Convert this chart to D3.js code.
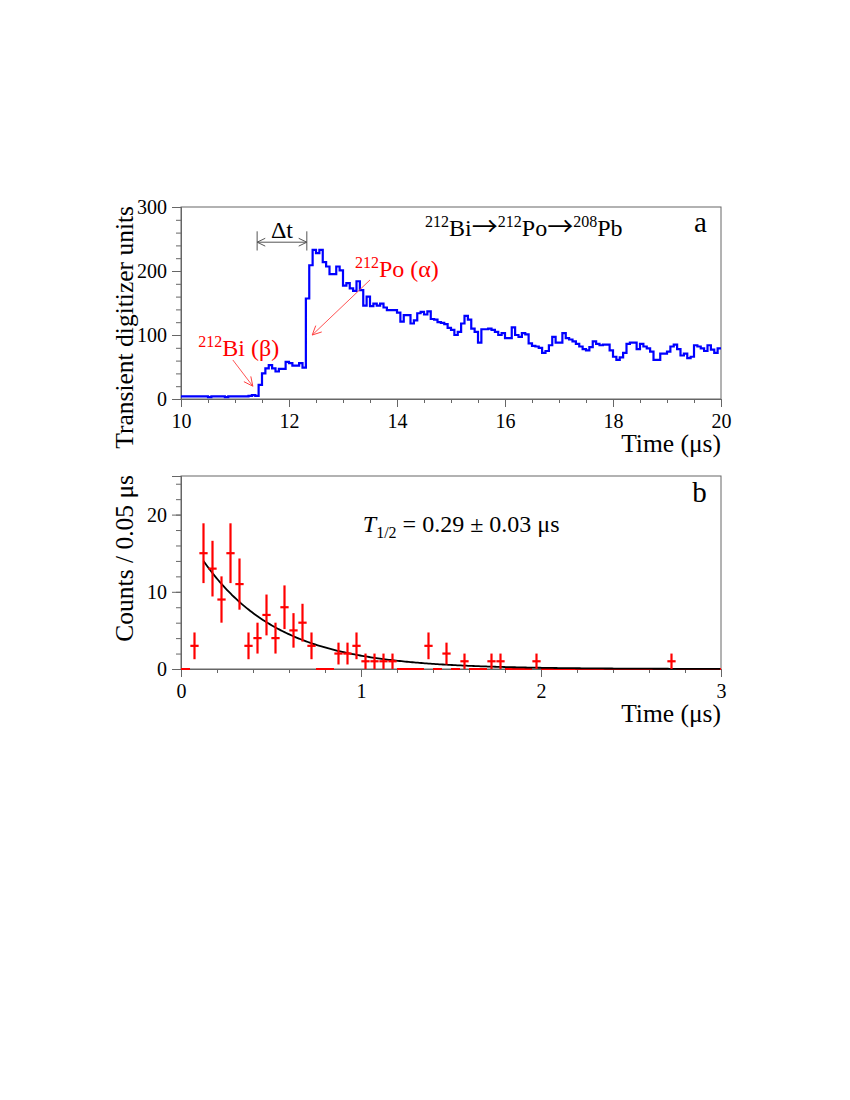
<!DOCTYPE html>
<html>
<head>
<meta charset="utf-8">
<script src="https://cdn.jsdelivr.net/npm/d3@7"></script>
<style>
  body { margin: 0; background: #fff; }
  text { font-family: "Liberation Serif", "Times New Roman", serif; fill: #000; }
</style>
</head>
<body>
<svg id="chart" width="850" height="1100"></svg>
<script>
// ---- panel a : transient digitizer trace (bins of 0.0625 us from 10 us)
var traceStart = 10;
var traceBin = 0.0625;
var traceValues = [
  4, 4, 4, 4, 4, 4, 4, 4, 3, 4, 4, 4, 4, 3, 4, 4, 4, 4, 4, 4, 5, 6, 5,
  22, 40, 48, 53, 48, 43, 47, 47, 58, 56, 52, 52, 56, 49,
  157, 209, 233, 228, 233, 214, 207, 195, 195, 207, 201, 177, 181, 173, 169, 184, 170, 146, 160,
  145, 149, 146, 149, 143, 139, 139, 139, 135, 121, 131, 131, 118, 123, 134, 136, 132, 137, 125, 124,
  120, 119, 117, 111, 108, 100, 105, 118, 130, 124, 110,
  105, 88, 109, 109, 110, 108, 105, 100, 103, 95, 95, 112, 100, 97, 103, 101, 87, 83, 82, 80, 72, 75,
  84, 97, 88, 88, 103, 95, 93, 90, 86, 82, 78, 76, 81, 90,
  86, 84, 85, 85, 76, 66, 61, 65, 72, 86, 88, 88, 78, 86, 82, 79, 74, 61, 61, 71, 71, 74, 82, 85,
  78, 68, 71, 64, 66, 84, 82, 79, 75, 84, 77, 72, 79
];
var traceXTicks = [10, 12, 14, 16, 18, 20];
var traceYTicks = [0, 100, 200, 300];

// ---- panel b : decay time distribution (bins of 0.05 us from 0)
var decayBin = 0.05;
var decayCounts = [
  0, 3, 15, 13, 9, 15, 11, 3, 4, 7, 4, 8, 5, 6, 3, 0, 0, 2, 2, 3,
  1, 1, 1, 1, 0, 0, 0, 3, 0, 2, 0, 1, 0, 0, 1, 1, 0, 0, 0, 1,
  0, 0, 0, 0, 0, 0, 0, 0, 0, 0, 0, 0, 0, 0, 1, 0, 0, 0, 0, 0
];
var decayXTicks = [0, 1, 2, 3];
var decayYTicks = [0, 10, 20];
// fit: exponential with T1/2
var halfLife = 0.29, halfLifeErr = 0.03;
var fitStart = 0.125, fitAmp = 14.0;

var svg = d3.select("#chart");
var axisColor = "#666";
var titleSize = 25.5, labelSize = 24, supSize = 16;

function drawAxes(g, x, y, o) {
  // minor ticks
  g.append("g").attr("transform", "translate(0," + y.range()[0] + ")")
    .call(d3.axisBottom(x).tickValues(o.xMinor).tickSize(4).tickFormat(""));
  g.append("g").attr("transform", "translate(" + x.range()[0] + ",0)")
    .call(d3.axisLeft(y).tickValues(o.yMinor).tickSize(5).tickFormat(""));
  // major ticks + labels
  g.append("g").attr("transform", "translate(0," + y.range()[0] + ")")
    .call(d3.axisBottom(x).tickValues(o.xTicks).tickSize(8).tickPadding(7).tickFormat(d3.format("d")));
  g.append("g").attr("transform", "translate(" + x.range()[0] + ",0)")
    .call(d3.axisLeft(y).tickValues(o.yTicks).tickSize(9).tickPadding(5).tickFormat(d3.format("d")));
  g.selectAll(".domain").attr("stroke", axisColor);
  g.selectAll(".tick line").attr("stroke", axisColor);
  g.selectAll(".tick text").attr("font-family", "Liberation Serif").attr("font-size", 20).attr("fill", "#000");
  // frame
  g.append("rect")
    .attr("x", x.range()[0]).attr("y", y.range()[1])
    .attr("width", x.range()[1] - x.range()[0]).attr("height", y.range()[0] - y.range()[1])
    .attr("fill", "none").attr("stroke", axisColor).attr("stroke-width", 1);
  // titles
  g.append("text")
    .attr("transform", "translate(133," + (y.range()[1] - 1) + ") rotate(-90)")
    .attr("text-anchor", "end").attr("font-size", titleSize).text(o.yTitle);
  g.append("text")
    .attr("x", x.range()[1]).attr("y", y.range()[0] + o.xTitleDy)
    .attr("text-anchor", "end").attr("font-size", titleSize).text("Time (\u03bcs)");
}

function arrowHead(g, x0, y0, x1, y1, len, color) {
  var a = Math.atan2(y1 - y0, x1 - x0), s = 0.45;
  g.append("path")
    .attr("d", "M" + (x1 - len * Math.cos(a - s)) + "," + (y1 - len * Math.sin(a - s)) +
      "L" + x1 + "," + y1 +
      "L" + (x1 - len * Math.cos(a + s)) + "," + (y1 - len * Math.sin(a + s)))
    .attr("fill", "none").attr("stroke", color).attr("stroke-width", 1);
}

// ================= panel a =================
var x1 = d3.scaleLinear().domain([10, 20]).range([181, 721]);
var y1 = d3.scaleLinear().domain([0, 300]).range([399, 207]);
var ga = svg.append("g");

drawAxes(ga, x1, y1, {
  xTicks: traceXTicks, xMinor: d3.range(10, 20.01, 0.5),
  yTicks: traceYTicks, yMinor: d3.range(0, 301, 20),
  yTitle: "Transient digitizer units", xTitleDy: 53
});

var tracePts = traceValues.map(function (v, i) { return [traceStart + i * traceBin, v]; });
tracePts.push([traceStart + traceValues.length * traceBin, traceValues[traceValues.length - 1]]);

ga.append("path")
  .datum(tracePts)
  .attr("d", d3.line().x(function (d) { return x1(d[0]); }).y(function (d) { return y1(d[1]); })
    .curve(d3.curveStepAfter))
  .attr("fill", "none").attr("stroke", "#0000ff").attr("stroke-width", 2.2);

// delta t marker
var dtA = x1(11.41), dtB = x1(12.33), dtY = y1(245);
ga.append("line").attr("x1", dtA).attr("x2", dtB).attr("y1", dtY).attr("y2", dtY)
  .attr("stroke", "#555").attr("stroke-width", 1);
[dtA, dtB].forEach(function (xx) {
  ga.append("line").attr("x1", xx).attr("x2", xx).attr("y1", y1(262)).attr("y2", y1(232))
    .attr("stroke", "#555").attr("stroke-width", 1);
});
arrowHead(ga, dtB, dtY, dtA, dtY, 9, "#555");
arrowHead(ga, dtA, dtY, dtB, dtY, 9, "#555");
ga.append("text").attr("x", x1(11.87)).attr("y", y1(251)).attr("text-anchor", "middle")
  .attr("font-size", 24).text("\u0394t");

// decay chain label: superscript mass numbers, thin arrows
var chain = ga.append("text").attr("x", x1(14.52)).attr("y", y1(254)).attr("font-size", labelSize);
var chainParts = [["212", "sup"], ["Bi", "txt"], ["\u2192", "arr"], ["212", "sup"], ["Po", "txt"],
  ["\u2192", "arr"], ["208", "sup"], ["Pb", "txt"]];
var level = 0;
chainParts.forEach(function (p) {
  var t = chain.append("tspan").text(p[0]);
  var target = p[1] === "sup" ? -9 : 0;
  t.attr("dy", target - level);
  level = target;
  if (p[1] === "sup") t.attr("font-size", supSize);
  if (p[1] === "arr") t.attr("font-family", "Noto Sans CJK JP").attr("font-size", 26);
});
ga.append("text").attr("x", x1(19.62)).attr("y", y1(261)).attr("text-anchor", "middle")
  .attr("font-size", 29).text("a");

// red annotations
var biLab = ga.append("text").attr("x", x1(10.32)).attr("y", y1(67)).style("fill", "#ff0000")
  .attr("font-size", labelSize);
biLab.append("tspan").attr("font-size", supSize).attr("dy", -9).text("212");
biLab.append("tspan").attr("dy", 9).text("Bi (\u03b2)");
ga.append("line").attr("x1", x1(10.96)).attr("y1", y1(61)).attr("x2", x1(11.33)).attr("y2", y1(20))
  .attr("stroke", "#ff4040").attr("stroke-width", 0.9);
arrowHead(ga, x1(10.96), y1(61), x1(11.33), y1(20), 10, "#ff4040");

var poLab = ga.append("text").attr("x", x1(13.22)).attr("y", y1(190)).style("fill", "#ff0000")
  .attr("font-size", labelSize);
poLab.append("tspan").attr("font-size", supSize).attr("dy", -9).text("212");
poLab.append("tspan").attr("dy", 9).text("Po (\u03b1)");
ga.append("line").attr("x1", x1(13.5)).attr("y1", y1(186)).attr("x2", x1(12.43)).attr("y2", y1(100))
  .attr("stroke", "#ff4040").attr("stroke-width", 0.9);
arrowHead(ga, x1(13.5), y1(186), x1(12.43), y1(100), 10, "#ff4040");

// ================= panel b =================
var x2 = d3.scaleLinear().domain([0, 3]).range([181, 721]);
var y2 = d3.scaleLinear().domain([0, 25]).range([669, 476]);
var gb = svg.append("g");

drawAxes(gb, x2, y2, {
  xTicks: decayXTicks, xMinor: d3.range(0, 3.01, 0.2),
  yTicks: decayYTicks, yMinor: d3.range(0, 25.1, 2),
  yTitle: "Counts / 0.05 \u03bcs", xTitleDy: 53
});

var bins = decayCounts.map(function (c, i) {
  return { lo: i * decayBin, hi: (i + 1) * decayBin, mid: (i + 0.5) * decayBin, n: c };
});

// zero bins drawn on the baseline
gb.selectAll(".zero").data(bins.filter(function (b) { return b.n === 0; })).enter()
  .append("line").attr("class", "zero")
  .attr("x1", function (b) { return x2(b.lo); }).attr("x2", function (b) { return x2(b.hi); })
  .attr("y1", y2(0)).attr("y2", y2(0))
  .attr("stroke", "#ff0000").attr("stroke-width", 2);

// fit curve
var fitPts = d3.range(fitStart, 3.0001, 0.01).map(function (t) {
  return [t, fitAmp * Math.exp(-Math.LN2 * (t - fitStart) / halfLife)];
});
gb.append("path").datum(fitPts)
  .attr("d", d3.line().x(function (d) { return x2(d[0]); }).y(function (d) { return y2(d[1]); }))
  .attr("fill", "none").attr("stroke", "#000").attr("stroke-width", 1.8);

var pts = gb.selectAll(".pt").data(bins.filter(function (b) { return b.n > 0; })).enter()
  .append("g").attr("class", "pt");
pts.append("line")
  .attr("x1", function (b) { return x2(b.mid); }).attr("x2", function (b) { return x2(b.mid); })
  .attr("y1", function (b) { return y2(b.n - Math.sqrt(b.n)); })
  .attr("y2", function (b) { return y2(b.n + Math.sqrt(b.n)); })
  .attr("stroke", "#ff0000").attr("stroke-width", 2.2);
pts.append("line")
  .attr("x1", function (b) { return x2(b.lo + 0.002); }).attr("x2", function (b) { return x2(b.hi - 0.002); })
  .attr("y1", function (b) { return y2(b.n); }).attr("y2", function (b) { return y2(b.n); })
  .attr("stroke", "#ff0000").attr("stroke-width", 2.2);

// labels
var tl = gb.append("text").attr("x", x2(1.01)).attr("y", y2(17.8)).attr("font-size", labelSize);
tl.append("tspan").attr("font-style", "italic").text("T");
tl.append("tspan").attr("font-size", supSize).attr("dy", 6).text("1/2");
tl.append("tspan").attr("dy", -6).text(" = " + halfLife.toFixed(2) + " \u00b1 " + halfLifeErr.toFixed(2) + " \u03bcs");
gb.append("text").attr("x", x2(2.88)).attr("y", y2(21.6)).attr("text-anchor", "middle")
  .attr("font-size", 29).text("b");
</script>
</body>
</html>
